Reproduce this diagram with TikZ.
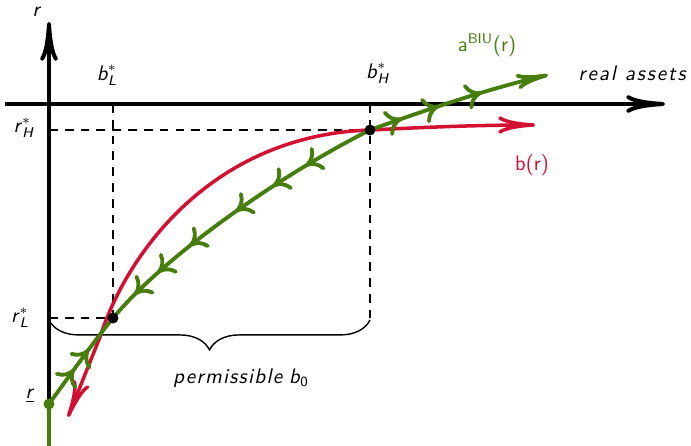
\documentclass[tikz,border=0pt]{standalone}
\usepackage{amsmath}
\usepackage{fontspec}
\usepackage{xcolor}
\usetikzlibrary{arrows.meta,decorations.markings,decorations.pathreplacing}
\definecolor{biugreen}{RGB}{70,125,12}
\definecolor{bred}{RGB}{212,16,50}
\newfontfamily\wideit{lmsans10-oblique.otf}[LetterSpace=9]
\newfontfamily\permit{lmsans10-oblique.otf}[LetterSpace=6]
\newcommand{\sv}[1]{\textsf{\textit{#1}}}

\begin{document}
\begin{tikzpicture}[
  x=0.02cm, y=-0.02cm,
  every node/.style={font=\sffamily\large, inner sep=1pt},
  axistip/.tip={To[length=22pt,width=10pt]},
  gtip/.tip={To[length=9pt,width=15pt]},
  gend/.tip={To[length=18pt,width=9pt]},
  rtip/.tip={To[length=21pt,width=10pt]},
  axis/.style={line width=2.3pt, -axistip},
  guide/.style={line width=0.8pt, dash pattern=on 5pt off 4pt},
  gcurve/.style={biugreen, line width=2.2pt},
  rcurve/.style={bred, line width=2pt},
  dot/.style={circle, fill, inner sep=0pt, minimum size=0.22cm},
  brc/.style={line width=0.8pt, decorate, decoration={brace, mirror, amplitude=17pt}}
]
  \useasboundingbox (0,0) rectangle (691,446);

  % points
  \coordinate (xL) at (5,104);
  \coordinate (xR) at (665,104);
  \coordinate (yT) at (49,22);
  \coordinate (rlow) at (49,404);
  \coordinate (ybot) at (49,446);
  \coordinate (EL) at (113,318);
  \coordinate (EH) at (370,130);
  \coordinate (rL) at (49,318);
  \coordinate (rH) at (49,130);
  \coordinate (bL) at (113,104);
  \coordinate (bH) at (370,104);
  \coordinate (brL) at (49,320);
  \coordinate (brR) at (370,320);
  \coordinate (aEnd) at (548,75);
  \coordinate (bStart) at (68,417);
  \coordinate (bKnee) at (100,337);
  \coordinate (bEnd) at (535,125);

  % dashed guides and brace
  \draw[guide] (rH) -- (EH);
  \draw[guide] (rL) -- (EL);
  \draw[guide] (bL) -- (EL);
  \draw[guide] (bH) -- (brR);
  \draw[brc] (brL) -- (brR);

  % axes
  \draw[axis] (xL) -- (xR);
  \draw[axis] (rlow) -- (yT);

  % b(r)
  \draw[rcurve, rtip-rtip] (bStart) -- (bKnee) .. controls (128,250) and (215,135) .. (EH)
    .. controls (430,127) and (480,125) .. (bEnd);

  % a^BIU(r)
  \draw[gcurve] (rlow) -- (ybot);
  \draw[gcurve, postaction={decorate}, decoration={markings,
      mark=at position 0.4 with {\arrow{gtip}},
      mark=at position 0.63 with {\arrow{gtip}}}]
    (rlow) .. controls (70,375) and (95,340) .. (EL);
  \draw[gcurve, postaction={decorate}, decoration={markings,
      mark=at position 0.23 with {\arrow{gtip}},
      mark=at position 0.35 with {\arrow{gtip}},
      mark=at position 0.49 with {\arrow{gtip}},
      mark=at position 0.67 with {\arrow{gtip}},
      mark=at position 0.8 with {\arrow{gtip}},
      mark=at position 0.9 with {\arrow{gtip}}}]
    (EH) .. controls (290,170) and (170,250) .. (EL);
  \draw[gcurve, -gend, postaction={decorate}, decoration={markings,
      mark=at position 0.18 with {\arrow{gtip}},
      mark=at position 0.39 with {\arrow{gtip}},
      mark=at position 0.63 with {\arrow{gtip}}}]
    (EH) .. controls (420,112) and (490,88) .. (aEnd);

  \node[dot] (pL) at (EL) {};
  \node[dot] (pH) at (EH) {};
  \node[dot, biugreen] (pr) at (rlow) {};

  % labels
  \node (ylab) at (37,12) {\sv{r}};
  \node (xlab) at (632,73) {\wideit real assets};
  \node (bLlab) at (107,75) {$\sv{b}^{*}_{\sv{L}}$};
  \node (bHlab) at (378,73) {$\sv{b}^{*}_{\sv{H}}$};
  \node (rHlab) at (24,128) {$\sv{r}^{*}_{\sv{H}}$};
  \node (rLlab) at (20,318) {$\sv{r}^{*}_{\sv{L}}$};
  \node (rlab) at (30,396) {\underline{\sv{r}}};
  \node[text=biugreen] (alab) at (487,45) {$\textsf{a}^{\textsf{BIU}}\textsf{(r)}$};
  \node[text=bred] (blab) at (532,165) {b(r)};
  \node (perm) at (241,378) {{\permit permissible} $\sv{b}_{\textsf{0}}$};
\end{tikzpicture}
\end{document}
